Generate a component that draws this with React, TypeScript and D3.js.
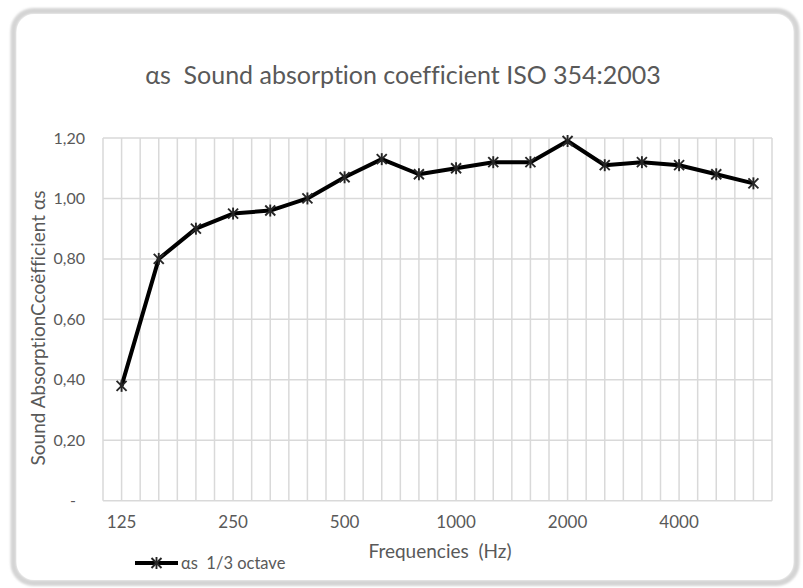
import React from "react";
import * as d3 from "d3";

const categories = ["125", "160", "200", "250", "315", "400", "500", "630", "800", "1000", "1250", "1600", "2000", "2500", "3150", "4000", "5000", "6300"];
const shownLabels = ["125", "250", "500", "1000", "2000", "4000"];
const alphaValues = [0.38, 0.80, 0.90, 0.95, 0.96, 1.00, 1.07, 1.13, 1.08, 1.10, 1.12, 1.12, 1.19, 1.11, 1.12, 1.11, 1.08, 1.05];
const yTicks = [0, 0.2, 0.4, 0.6, 0.8, 1.0, 1.2];

const W = 803;
const H = 588;
const FONT = "Lato, 'Open Sans', sans-serif";
const TEXT = "#595959";
const GRID = "#d9d9d9";
const txtStyle: React.CSSProperties = { whiteSpace: "pre", fontVariantLigatures: "none" };

function fmt(v: number) {
  if (v === 0) return "-";
  return v.toFixed(2).replace(".", ",");
}

function Star({ x, y }: { x: number; y: number }) {
  const s = 5;
  return (
    <g stroke="#262626" strokeWidth={1.9}>
      <line x1={x - s} y1={y - s} x2={x + s} y2={y + s} />
      <line x1={x - s} y1={y + s} x2={x + s} y2={y - s} />
      <line x1={x} y1={y - s - 1} x2={x} y2={y + s + 1} />
    </g>
  );
}

export default function App() {
  const left = 103, right = 772, top = 138, bottom = 500.7;
  const x = d3.scaleBand<string>().domain(categories).range([left, right]).padding(0);
  const y = d3.scaleLinear().domain([0, 1.2]).range([bottom, top]);
  const bw = x.bandwidth();
  const cx = (c: string) => (x(c) as number) + bw / 2;

  const vlines: number[] = [];
  categories.forEach((c) => {
    vlines.push(x(c) as number);
    vlines.push(cx(c));
  });
  vlines.push(right);

  const line = d3
    .line<number>()
    .x((_, i) => cx(categories[i]))
    .y((d) => y(d));

  return (
    <svg width={W} height={H} style={{ position: "absolute", left: 0, top: 0 }}>
      <defs>
        <filter id="blur" x="-5%" y="-5%" width="110%" height="110%">
          <feGaussianBlur stdDeviation="1.2" />
        </filter>
      </defs>
      <rect x={0} y={0} width={W} height={H} fill="#ffffff" />
      <rect x={13.5} y={11} width={783} height={572} rx={20} ry={20} fill="none" stroke="#d4d4d4" strokeWidth={6} filter="url(#blur)" />
      <rect x={16.5} y={14} width={777} height={566} rx={18} ry={18} fill="#ffffff" />

      <text x={403} y={84} textAnchor="middle" fontFamily={FONT} fontSize={25} fill={TEXT} style={txtStyle}>
        {"αs  Sound absorption coefficient ISO 354:2003"}
      </text>

      {yTicks.map((t) => (
        <line key={"h" + t} x1={left} x2={right} y1={y(t)} y2={y(t)} stroke={GRID} strokeWidth={1.5} />
      ))}
      {vlines.map((v, i) => (
        <line key={"v" + i} x1={v} x2={v} y1={top} y2={bottom} stroke={GRID} strokeWidth={1.5} />
      ))}

      {yTicks.map((t) => (
        <text key={"yl" + t} x={t === 0 ? 76 : 85} y={y(t) + 5.5} textAnchor="end" fontFamily={FONT} fontSize={16} fill={TEXT} style={txtStyle}>
          {fmt(t)}
        </text>
      ))}

      {shownLabels.map((c) => (
        <text key={"xl" + c} x={cx(c)} y={528} textAnchor="middle" fontFamily={FONT} fontSize={17} fill={TEXT} style={txtStyle}>
          {c}
        </text>
      ))}

      <text x={440} y={558} textAnchor="middle" fontFamily={FONT} fontSize={19} fill={TEXT} style={txtStyle}>
        {"Frequencies  (Hz)"}
      </text>

      <text transform={`translate(45, 328) rotate(-90)`} textAnchor="middle" fontFamily={FONT} fontSize={19} fill={TEXT} style={txtStyle}>
        {"Sound AbsorptionCcoëfficient αs"}
      </text>

      <path d={line(alphaValues) || ""} fill="none" stroke="#000000" strokeWidth={4} strokeLinejoin="round" />
      {alphaValues.map((v, i) => (
        <Star key={"m" + i} x={cx(categories[i])} y={y(v)} />
      ))}

      <line x1={135} x2={178} y1={563} y2={563} stroke="#000000" strokeWidth={4} />
      <Star x={156.5} y={563} />
      <text x={181} y={569} fontFamily={FONT} fontSize={16.5} fill={TEXT} style={txtStyle}>
        {"αs  1/3 octave"}
      </text>
    </svg>
  );
}
